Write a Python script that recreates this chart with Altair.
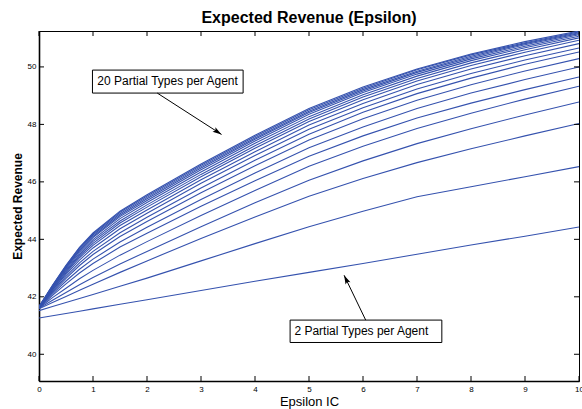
import altair as alt
import pandas as pd

# Epsilon IC sample points
epsilon_ic = [0, 0.25, 0.5, 0.75, 1, 1.5, 2, 3, 4, 5, 6, 7, 8, 9, 10]

# Expected revenue for each number of partial types per agent
types_2 = [41.26, 41.34, 41.42, 41.50, 41.58, 41.74, 41.90, 42.22, 42.54, 42.85, 43.16, 43.48, 43.80, 44.11, 44.43]
types_3 = [41.52, 41.66, 41.80, 41.94, 42.08, 42.37, 42.65, 43.25, 43.85, 44.44, 44.98, 45.48, 45.83, 46.18, 46.53]
types_4 = [41.58, 41.80, 42.01, 42.23, 42.44, 42.85, 43.25, 44.03, 44.78, 45.50, 46.12, 46.67, 47.15, 47.60, 48.03]
types_5 = [41.60, 41.88, 42.15, 42.42, 42.67, 43.14, 43.58, 44.44, 45.27, 46.06, 46.73, 47.33, 47.85, 48.33, 48.78]
types_6 = [41.61, 41.97, 42.30, 42.63, 42.92, 43.45, 43.92, 44.83, 45.70, 46.54, 47.24, 47.86, 48.39, 48.88, 49.33]
types_7 = [41.62, 42.05, 42.45, 42.83, 43.16, 43.73, 44.21, 45.15, 46.04, 46.89, 47.60, 48.22, 48.74, 49.21, 49.65]
types_8 = [41.63, 42.10, 42.55, 42.96, 43.31, 43.91, 44.42, 45.39, 46.31, 47.19, 47.91, 48.55, 49.09, 49.56, 50.00]
types_9 = [41.63, 42.15, 42.64, 43.09, 43.47, 44.10, 44.62, 45.62, 46.56, 47.46, 48.20, 48.84, 49.38, 49.86, 50.29]
types_10 = [41.64, 42.19, 42.71, 43.18, 43.58, 44.23, 44.77, 45.79, 46.75, 47.66, 48.42, 49.07, 49.61, 50.09, 50.52]
types_11 = [41.64, 42.23, 42.78, 43.28, 43.70, 44.37, 44.91, 45.95, 46.92, 47.83, 48.58, 49.23, 49.77, 50.24, 50.66]
types_12 = [41.64, 42.25, 42.83, 43.36, 43.79, 44.48, 45.02, 46.07, 47.05, 47.98, 48.73, 49.39, 49.93, 50.39, 50.81]
types_13 = [41.65, 42.29, 42.88, 43.42, 43.86, 44.57, 45.12, 46.18, 47.17, 48.10, 48.86, 49.51, 50.05, 50.51, 50.93]
types_14 = [41.65, 42.30, 42.92, 43.47, 43.93, 44.64, 45.20, 46.26, 47.26, 48.19, 48.95, 49.60, 50.14, 50.60, 51.01]
types_15 = [41.65, 42.33, 42.96, 43.53, 43.99, 44.72, 45.28, 46.34, 47.34, 48.27, 49.03, 49.68, 50.22, 50.67, 51.07]
types_16 = [41.65, 42.35, 43.00, 43.59, 44.06, 44.79, 45.35, 46.42, 47.42, 48.35, 49.11, 49.75, 50.28, 50.72, 51.12]
types_17 = [41.65, 42.36, 43.03, 43.62, 44.10, 44.84, 45.41, 46.48, 47.48, 48.41, 49.16, 49.81, 50.33, 50.77, 51.16]
types_18 = [41.65, 42.37, 43.05, 43.66, 44.15, 44.89, 45.46, 46.53, 47.53, 48.46, 49.21, 49.85, 50.37, 50.81, 51.19]
types_19 = [41.65, 42.39, 43.08, 43.70, 44.19, 44.94, 45.51, 46.58, 47.58, 48.51, 49.26, 49.90, 50.42, 50.84, 51.22]
types_20 = [41.65, 42.40, 43.10, 43.72, 44.22, 44.98, 45.55, 46.62, 47.62, 48.55, 49.30, 49.93, 50.45, 50.88, 51.25]

partial_types = list(range(2, 21))
series = [types_2, types_3, types_4, types_5, types_6, types_7, types_8, types_9, types_10,
          types_11, types_12, types_13, types_14, types_15, types_16, types_17, types_18,
          types_19, types_20]

# Axis ticks and ranges
x_ticks = list(range(0, 11))
y_ticks = [40, 42, 44, 46, 48, 50]
x_range = [0, 10]
y_range = [39.07, 51.25]

# Annotations: label text, box corners, text anchor, arrow start and tip
note_text = ["20 Partial Types per Agent", "2 Partial Types per Agent"]
note_box_x0 = [0.99, 4.65]
note_box_x1 = [3.78, 7.46]
note_box_y0 = [49.09, 40.41]
note_box_y1 = [49.89, 41.19]
note_text_x = [1.08, 4.73]
note_text_y = [49.50, 40.81]
arrow_from_x = [2.19, 6.05]
arrow_from_y = [49.09, 41.19]
arrow_to_x = [3.38, 5.65]
arrow_to_y = [47.65, 42.75]
arrow_angle = [122.8, 334.3]

W, H = 540, 350
FONT = "Liberation Sans"
LINE_COLOR = "#3552ae"

rows = []
for n, vals in zip(partial_types, series):
    for e, v in zip(epsilon_ic, vals):
        rows.append({"types": n, "eps": e, "revenue": v})
lines_df = pd.DataFrame(rows)

notes_df = pd.DataFrame({
    "text": note_text, "bx0": note_box_x0, "bx1": note_box_x1,
    "by0": note_box_y0, "by1": note_box_y1, "tx": note_text_x, "ty": note_text_y,
    "ax0": arrow_from_x, "ay0": arrow_from_y, "ax1": arrow_to_x, "ay1": arrow_to_y,
    "angle": arrow_angle,
})

xs = alt.Scale(domain=x_range, nice=False, zero=False)
ys = alt.Scale(domain=y_range, nice=False, zero=False)

x_axis = alt.Axis(values=x_ticks, ticks=False, grid=False, labelFontSize=8, labelPadding=4,
                  labelFlush=False, labelColor="black", domainColor="black", domainWidth=1.6,
                  title="Epsilon IC", titleFontSize=13, titleFontWeight="normal",
                  titleColor="black", titleX=W / 2, titleY=20, titleBaseline="middle",
                  titleAlign="center")
y_axis = alt.Axis(values=y_ticks, ticks=False, grid=False, labelFontSize=8, labelPadding=3,
                  labelColor="black", domainColor="black", domainWidth=1.6,
                  title="Expected Revenue", titleFontSize=12, titleFontWeight="bold",
                  titleColor="black", titleX=-22, titleY=H / 2, titleAngle=270,
                  titleBaseline="middle", titleAlign="center")

lines = alt.Chart(lines_df).mark_line(color=LINE_COLOR, strokeWidth=1.1, clip=True).encode(
    x=alt.X("eps:Q", scale=xs, axis=x_axis),
    y=alt.Y("revenue:Q", scale=ys, axis=y_axis),
    detail="types:N",
)

# inward tick marks on all four sides of the box
xt_df = pd.DataFrame({"t": x_ticks})
yt_df = pd.DataFrame({"t": y_ticks})
tick_len = 5
bottom_ticks = alt.Chart(xt_df).mark_rule(color="black", strokeWidth=1).encode(
    x=alt.X("t:Q", scale=xs), y=alt.value(H), y2=alt.value(H - tick_len))
top_ticks = alt.Chart(xt_df).mark_rule(color="black", strokeWidth=1).encode(
    x=alt.X("t:Q", scale=xs), y=alt.value(0), y2=alt.value(tick_len))
left_ticks = alt.Chart(yt_df).mark_rule(color="black", strokeWidth=1).encode(
    y=alt.Y("t:Q", scale=ys), x=alt.value(0), x2=alt.value(tick_len))
right_ticks = alt.Chart(yt_df).mark_rule(color="black", strokeWidth=1).encode(
    y=alt.Y("t:Q", scale=ys), x=alt.value(W), x2=alt.value(W - tick_len))

boxes = alt.Chart(notes_df).mark_rect(fill="white", stroke="black", strokeWidth=1).encode(
    x=alt.X("bx0:Q", scale=xs), x2="bx1:Q",
    y=alt.Y("by0:Q", scale=ys), y2="by1:Q",
)
labels = alt.Chart(notes_df).mark_text(align="left", baseline="middle", fontSize=12,
                                       font=FONT, color="black").encode(
    x=alt.X("tx:Q", scale=xs), y=alt.Y("ty:Q", scale=ys), text="text:N")
shafts = alt.Chart(notes_df).mark_rule(color="black", strokeWidth=1).encode(
    x=alt.X("ax0:Q", scale=xs), x2="ax1:Q",
    y=alt.Y("ay0:Q", scale=ys), y2="ay1:Q",
)
heads = alt.Chart(notes_df).mark_point(
    shape="M0,0 L0.6,2 L0,1.6 L-0.6,2 Z", filled=True, color="black", size=81, opacity=1
).encode(
    x=alt.X("ax1:Q", scale=xs), y=alt.Y("ay1:Q", scale=ys), angle=alt.Angle("angle:Q", scale=None)
)

chart = alt.layer(
    lines, bottom_ticks, top_ticks, left_ticks, right_ticks, boxes, labels, shafts, heads
).properties(
    width=W, height=H,
    title=alt.TitleParams("Expected Revenue (Epsilon)", fontSize=16, fontWeight="bold",
                          font=FONT, color="black", anchor="middle", offset=5),
    autosize=alt.AutoSizeParams(type="none"),
    padding={"left": 39, "top": 31, "right": 3, "bottom": 28},
).configure(
    font=FONT, background="white"
).configure_view(
    stroke="black", strokeWidth=1
)

chart.save("out.html", embed_options={"renderer": "svg", "actions": False})
